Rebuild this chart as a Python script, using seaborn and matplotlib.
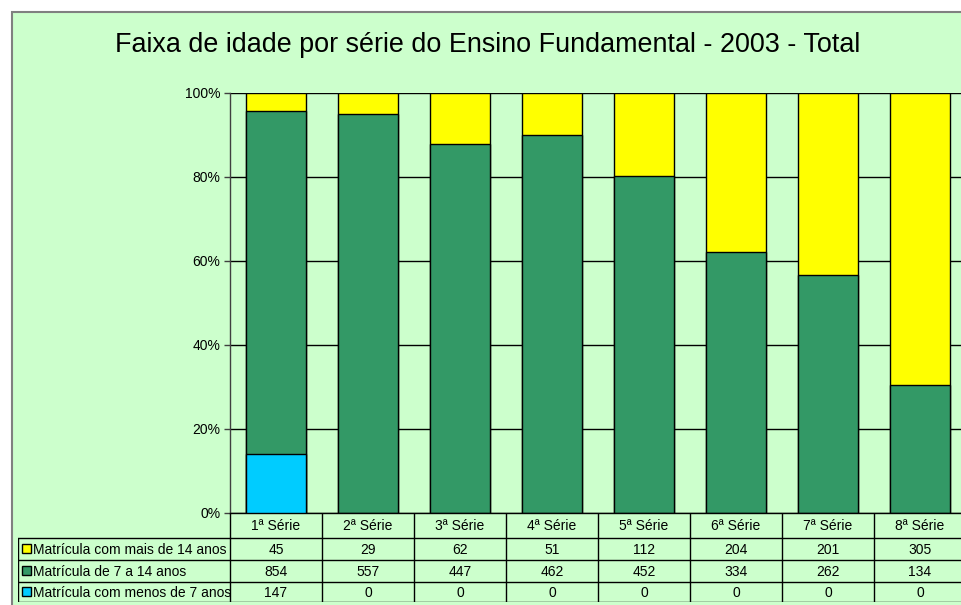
import matplotlib.pyplot as plt
import seaborn as sns
import numpy as np
import pandas as pd
from matplotlib.patches import Rectangle

series = ["1ª Série", "2ª Série", "3ª Série", "4ª Série",
          "5ª Série", "6ª Série", "7ª Série", "8ª Série"]
mais_14 = [45, 29, 62, 51, 112, 204, 201, 305]
de_7_a_14 = [854, 557, 447, 462, 452, 334, 262, 134]
menos_7 = [147, 0, 0, 0, 0, 0, 0, 0]
row_names = ["Matrícula com mais de 14 anos",
             "Matrícula de 7 a 14 anos",
             "Matrícula com menos de 7 anos"]
row_colors = ["#FFFF00", "#339966", "#00CCFF"]
title = "Faixa de idade por série do Ensino Fundamental - 2003 - Total"

sns.set_theme(style="white")
plt.rcParams['font.family'] = ['Liberation Sans', 'DejaVu Sans']
plt.rcParams['text.color'] = 'black'
plt.rcParams['ytick.color'] = 'black'

df = pd.DataFrame({"serie": series, "mais": mais_14, "meio": de_7_a_14, "menos": menos_7})
total = df["mais"] + df["meio"] + df["menos"]
df["p_menos"] = df["menos"] / total * 100
df["p_meio"] = (df["menos"] + df["meio"]) / total * 100
df["p_total"] = 100.0

W, H = 961, 605
fig = plt.figure(figsize=(W / 100, H / 100), dpi=100)
fig.patch.set_facecolor("white")
bg = "#CCFFCC"
fig.patches.append(Rectangle((12 / W, -0.02), 1.0, 1 - 12 / H + 0.02,
                             transform=fig.transFigure, facecolor=bg,
                             edgecolor="#808080", lw=1.5, zorder=-5))

fig.text(488 / W, 1 - 45 / H, title, ha="center", va="center",
         fontsize=19.4, color="black")

# main plot
ax_l, ax_r, ax_t, ax_b = 230, 966, 93, 513
ax = fig.add_axes([ax_l / W, 1 - ax_b / H, (ax_r - ax_l) / W, (ax_b - ax_t) / H])
ax.set_facecolor("none")
bw = 60 / 92
for col, c in zip(["p_total", "p_meio", "p_menos"], row_colors):
    sns.barplot(data=df, x="serie", y=col, color=c, edgecolor="black",
                linewidth=1, width=bw, saturation=1, ax=ax, zorder=3)
ax.set_xlim(-0.5, 7.5)
ax.set_ylim(0, 100)
ax.set_yticks([0, 20, 40, 60, 80, 100])
ax.set_yticklabels([f"{v}%" for v in [0, 20, 40, 60, 80, 100]], fontsize=10)
ax.set_xticks([])
ax.set_xlabel("")
ax.set_ylabel("")
ax.yaxis.grid(True, color="black", lw=1)
ax.set_axisbelow(True)
ax.tick_params(axis="y", left=True, length=4, width=1, color="#404040", pad=3)
for s in ["left", "bottom"]:
    ax.spines[s].set_color("black")
    ax.spines[s].set_linewidth(1)
ax.spines["left"].set_color("#404040")
ax.spines["top"].set_visible(False)
ax.spines["right"].set_visible(False)

# data table
tl, tb = 18, 602
tax = fig.add_axes([tl / W, 1 - tb / H, (ax_r - tl) / W, (tb - ax_b) / H])
tax.set_facecolor("none")
tax.axis("off")
x0 = -0.5 - (ax_l - tl) / 92
tax.set_xlim(x0, 7.5)
tax.set_ylim(tb - ax_b, 0)
rows_y = [0, 25, 47, 69, 89]

def px(p):
    return -0.5 + (p - ax_l) / 92

for i in range(len(series) + 1):
    tax.plot([i - 0.5, i - 0.5], [0, rows_y[-1]], color="black", lw=1)
tax.plot([x0, x0], [rows_y[1], rows_y[-1]], color="black", lw=1)
for y in rows_y[1:]:
    tax.plot([x0, 7.5], [y, y], color="black", lw=1)

for i, s in enumerate(series):
    tax.text(i, (rows_y[0] + rows_y[1]) / 2 + 1, s, ha="center", va="center", fontsize=10)

values = [mais_14, de_7_a_14, menos_7]
for r, (name, vals, c) in enumerate(zip(row_names, values, row_colors)):
    yc = (rows_y[r + 1] + rows_y[r + 2]) / 2 + 1
    tax.add_patch(Rectangle((px(22), yc - 6), 9 / 92, 9, facecolor=c,
                            edgecolor="black", lw=1))
    tax.text(px(33), yc, name, ha="left", va="center", fontsize=10)
    for i, v in enumerate(vals):
        tax.text(i, yc, str(v), ha="center", va="center", fontsize=10)

fig.savefig("out.png", dpi=100)
